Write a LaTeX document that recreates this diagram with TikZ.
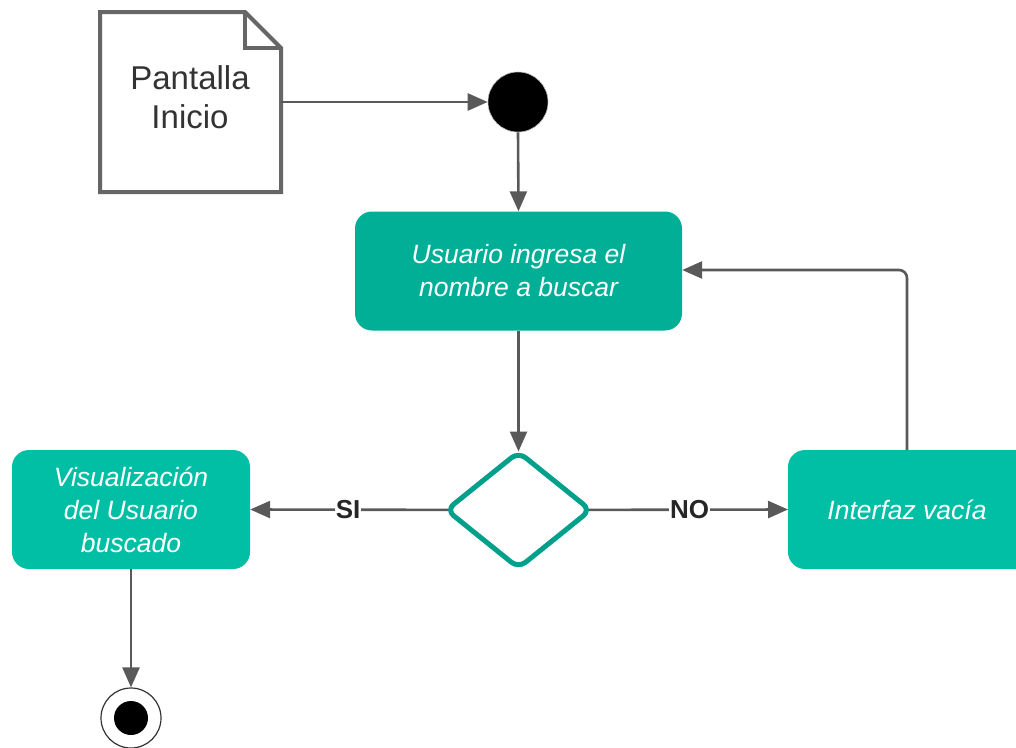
\documentclass[tikz,border=0pt]{standalone}
\usepackage{fontspec}
\setmainfont{Liberation Sans}
\usetikzlibrary{arrows.meta,shapes.geometric,backgrounds}
\definecolor{tealA}{HTML}{00AF96}
\definecolor{tealB}{HTML}{00BFA5}
\definecolor{tealLine}{HTML}{00A08A}
\definecolor{lineGray}{HTML}{595959}
\definecolor{docGray}{HTML}{666666}
\tikzset{
  flow/.style={draw=lineGray, line width=2.6pt, -{Triangle[length=20pt,width=17pt]}},
  activity/.style={rounded corners=17pt, minimum height=119pt, align=center,
    text=white, font=\fontsize{26.5}{33}\selectfont\itshape, inner sep=0pt},
  guard/.style={fill=white, font=\fontsize{26}{28}\selectfont\bfseries, text=black!85, inner sep=1pt}
}
\begin{document}
\begin{tikzpicture}[x=1pt, y=-1pt]
\useasboundingbox (0,0) rectangle (1016,747);

% document note with folded corner
\draw[docGray, line width=4pt, fill=white, line join=miter]
  (100,12) -- (245,12) -- (281,48) -- (281,192) -- (100,192) -- cycle;
\draw[docGray, line width=4pt] (245,12) -- (245,48) -- (281,48);
\node[font=\fontsize{33}{39}\selectfont, text=black!80, align=center] (doc) at (190,97) {Pantalla\\Inicio};
\coordinate (docR) at (281,102);

% initial node
\node[circle, fill=black, draw=gray!60, line width=0.6pt, minimum size=60pt, inner sep=0pt] (start) at (518,102) {};

% activities
\node[activity, fill=tealA, minimum width=327pt] (ingresa) at (518.5,271) {Usuario ingresa el\\nombre a buscar};
\node[activity, fill=tealB, minimum width=238pt] (visual) at (131,509.5) {Visualización\\del Usuario\\buscado};
\fill[tealB, rounded corners=17pt] (788,450) rectangle (1040,569);
\node[text=white, font=\fontsize{26.5}{33}\selectfont\itshape] (vacia) at (907,509.5) {Interfaz vacía};
\coordinate (vaciaL) at (788,509.5);
\coordinate (vaciaT) at (907,450);

% decision
\node[diamond, draw=tealLine, line width=5pt, fill=white, rounded corners=9pt,
  minimum width=146pt, minimum height=118pt, inner sep=0pt] (dec) at (518.5,510) {};

% final node
\node[circle, draw=black!80, line width=1.2pt, fill=white, minimum size=60pt, inner sep=0pt] (endo) at (131,718) {};
\node[circle, fill=black, minimum size=34pt, inner sep=0pt] (endi) at (131,718) {};

% flows
\draw[flow] (docR) -- (start.west);
\draw[flow] (start.south) -- (ingresa.north);
\draw[flow] (ingresa.south) -- ([yshift=-3pt]dec.north);
\begin{scope}[on background layer]
  \draw[flow] (dec.center) -- node[guard, pos=0.635] (si) {SI} (visual.east);
  \draw[flow] (dec.center) -- node[guard, pos=0.635] (no) {NO} (vaciaL);
\end{scope}
\draw[flow, rounded corners=8pt] (vaciaT) -- (907,270) -- (ingresa.east |- 0,270);
\draw[flow] (visual.south) -- (endo.north);
\end{tikzpicture}
\end{document}
